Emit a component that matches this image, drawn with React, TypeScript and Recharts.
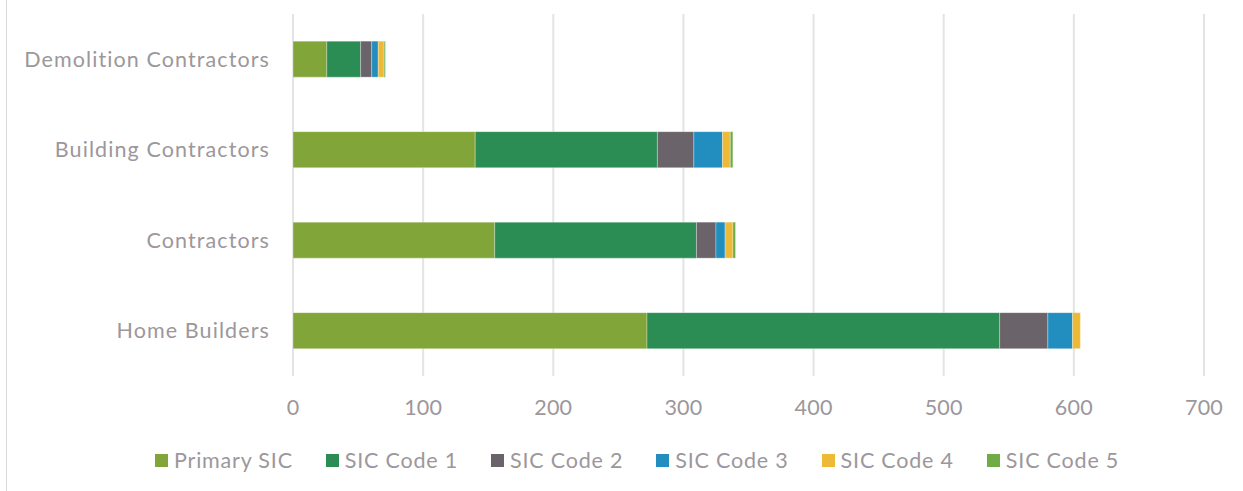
import React from "react";
import { BarChart, Bar, XAxis, YAxis, CartesianGrid, Legend } from "recharts";

const categories = ["Demolition Contractors", "Building Contractors", "Contractors", "Home Builders"];
const primarySic = [26, 140, 155, 272];
const sicCode1 = [26, 140, 155, 271];
const sicCode2 = [8.5, 28, 15, 37];
const sicCode3 = [5, 22, 7, 19];
const sicCode4 = [4.5, 6, 6, 6];
const sicCode5 = [1, 2, 2, 0];
const xTicks = [0, 100, 200, 300, 400, 500, 600, 700];

const seriesNames = ["Primary SIC", "SIC Code 1", "SIC Code 2", "SIC Code 3", "SIC Code 4", "SIC Code 5"];
const seriesColors = ["#82A53A", "#2B8C54", "#6A6369", "#228DBF", "#EDBA38", "#6FAC46"];
const seriesValues = [primarySic, sicCode1, sicCode2, sicCode3, sicCode4, sicCode5];
const keys = ["s0", "s1", "s2", "s3", "s4", "s5"];

const data = categories.map((name, i) => {
  const row: any = { name };
  keys.forEach((k, j) => {
    row[k] = seriesValues[j][i];
  });
  return row;
});

const FONT = "Lato, 'Open Sans', sans-serif";
const TEXT = "#9c979b";

const LegendContent = () => (
  <div
    style={{
      display: "flex",
      justifyContent: "flex-start",
      alignItems: "center",
      boxSizing: "border-box",
      paddingLeft: 155,
      paddingBottom: 4,
      height: 58,
      fontFamily: FONT,
      fontSize: 21.5,
      letterSpacing: 0.8,
      color: TEXT,
    }}
  >
    {seriesNames.map((n, i) => (
      <div key={n} style={{ display: "flex", alignItems: "center", marginRight: i < seriesNames.length - 1 ? 33 : 0 }}>
        <span style={{ display: "inline-block", width: 13, height: 13, background: seriesColors[i], marginRight: 6 }} />
        <span>{n}</span>
      </div>
    ))}
  </div>
);

export default function App() {
  return (
    <div style={{ position: "absolute", left: 0, top: 0, width: 1243, height: 491, background: "#fff" }}>
      <div style={{ position: "absolute", left: 6, top: 0, width: 1, height: 491, background: "#d9d9d9" }} />
      <BarChart
        width={1243}
        height={491}
        data={data}
        layout="vertical"
        margin={{ top: 14, right: 39, bottom: 0, left: 0 }}
        barCategoryGap="30%"
      >
        <CartesianGrid vertical horizontal={false} stroke="#e4e4e4" strokeWidth={2} />
        <XAxis
          type="number"
          domain={[0, 700]}
          ticks={xTicks}
          axisLine={false}
          tickLine={false}
          tickSize={0}
          tickMargin={24}
          height={57}
          tick={{ fill: TEXT, fontSize: 21.5, fontFamily: FONT, letterSpacing: 0.2 }}
        />
        <YAxis
          type="category"
          dataKey="name"
          width={293}
          axisLine={false}
          tickLine={false}
          tickSize={0}
          tickMargin={23}
          tick={{ fill: TEXT, fontSize: 21.5, fontFamily: FONT, letterSpacing: 1.1 }}
        />
        <Legend verticalAlign="bottom" height={58} content={<LegendContent />} />
        {keys.map((k, j) => (
          <Bar
            key={k}
            dataKey={k}
            name={seriesNames[j]}
            stackId="a"
            fill={seriesColors[j]}
            stroke="#ffffff"
            strokeOpacity={0.4}
            strokeWidth={0.75}
            isAnimationActive={false}
          />
        ))}
      </BarChart>
    </div>
  );
}
